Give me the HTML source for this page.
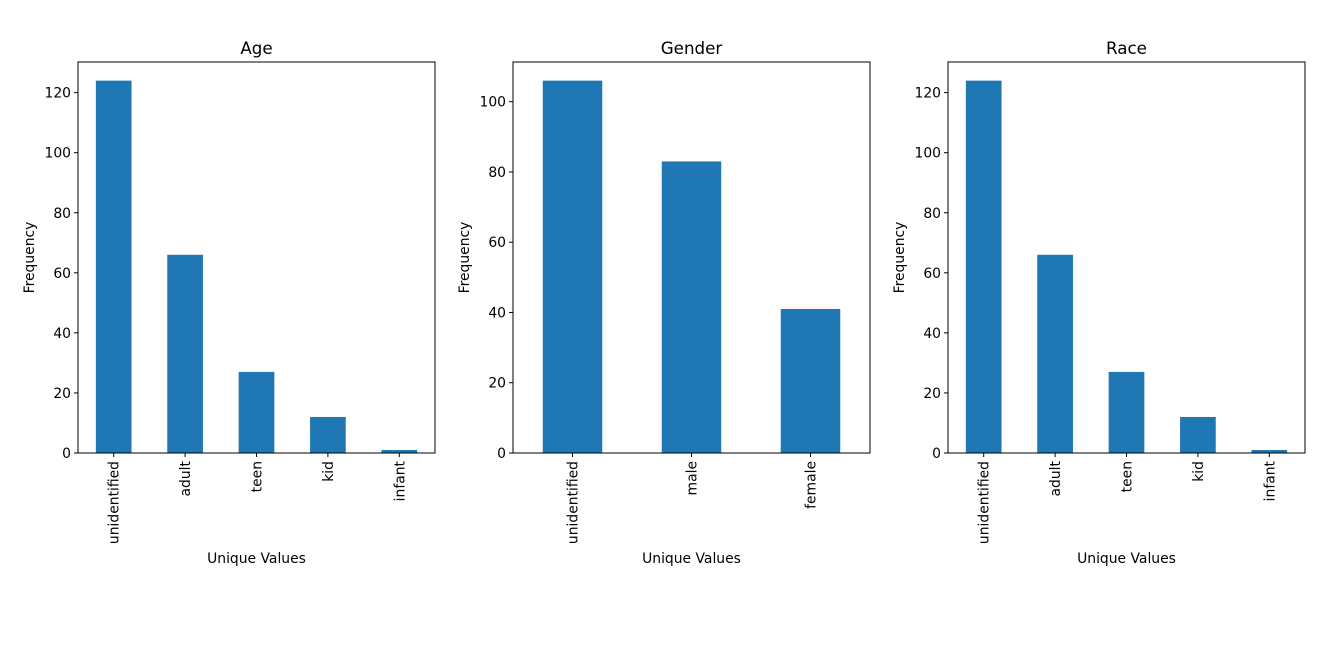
<!DOCTYPE html>
<html><head><meta charset="utf-8"><style>
body{margin:0;background:#fff;width:1322px;height:665px;overflow:hidden}
svg text{font-family:"DejaVu Sans","Liberation Sans",sans-serif;fill:#000}
</style></head><body>
<svg id="chart" width="1322" height="665" xmlns="http://www.w3.org/2000/svg"></svg>
<script>
const ageCategories=["unidentified","adult","teen","kid","infant"];
const ageValues=[124,66,27,12,1];
const ageTicks=[0,20,40,60,80,100,120];
const genderCategories=["unidentified","male","female"];
const genderValues=[106,83,41];
const genderTicks=[0,20,40,60,80,100];
const raceCategories=["unidentified","adult","teen","kid","infant"];
const raceValues=[124,66,27,12,1];
const raceTicks=[0,20,40,60,80,100,120];
const titles=["Age","Gender","Race"];

const svg=document.getElementById('chart');
const NS="http://www.w3.org/2000/svg";
function mk(tag,attrs,parent){const e=document.createElementNS(NS,tag);for(const k in attrs)e.setAttribute(k,attrs[k]);(parent||svg).appendChild(e);return e;}

function panel(x0,title,cats,vals,ticks,key){
  const y0=62,w=357,h=391,yb=y0+h;
  const ymax=Math.max(...vals)*1.05;
  const g=mk('g',{});
  
  
  const n=cats.length,unit=w/n;
  const xs=i=>x0+unit*(i+0.5);
  const ys=v=>yb-v/ymax*h;
  vals.forEach((v,i)=>{
    const r=mk('rect',{x:xs(i)-unit*0.25,y:ys(v),width:unit*0.5,height:yb-ys(v),fill:'#1f77b4'},g);
    
    
  });
  mk('rect',{x:x0,y:y0,width:w,height:h,fill:'none',stroke:'#000','stroke-width':1},g);
  ticks.forEach(t=>{
    const y=ys(t);
    mk('line',{x1:x0-4,x2:x0,y1:y,y2:y,stroke:'#000'},g);
    const tx=mk('text',{x:x0-7,y:y+5,'text-anchor':'end','font-size':13.9},g);
    tx.textContent=t;
    
    
  });
  cats.forEach((c,i)=>{
    const x=xs(i);
    mk('line',{x1:x,x2:x,y1:yb,y2:yb+4,stroke:'#000'},g);
    const tx=mk('text',{x:0,y:0,'text-anchor':'end','font-size':13.9,transform:`translate(${x+5},${yb+8}) rotate(-90)`},g);
    tx.textContent=c;
    
    
  });
  const t=mk('text',{x:x0+w/2,y:y0-8,'text-anchor':'middle','font-size':16.7},g);
  t.textContent=title;
  
  
  const xl=mk('text',{x:x0+w/2,y:563,'text-anchor':'middle','font-size':13.9},g);
  xl.textContent='Unique Values';
  
  
  const yl=mk('text',{x:0,y:0,'text-anchor':'middle','font-size':13.9,transform:`translate(${x0-44},${y0+h/2}) rotate(-90)`},g);
  yl.textContent='Frequency';
  
  
}
panel(78,titles[0],ageCategories,ageValues,ageTicks,'age');
panel(513,titles[1],genderCategories,genderValues,genderTicks,'gender');
panel(948,titles[2],raceCategories,raceValues,raceTicks,'race');
</script>
</body></html>
